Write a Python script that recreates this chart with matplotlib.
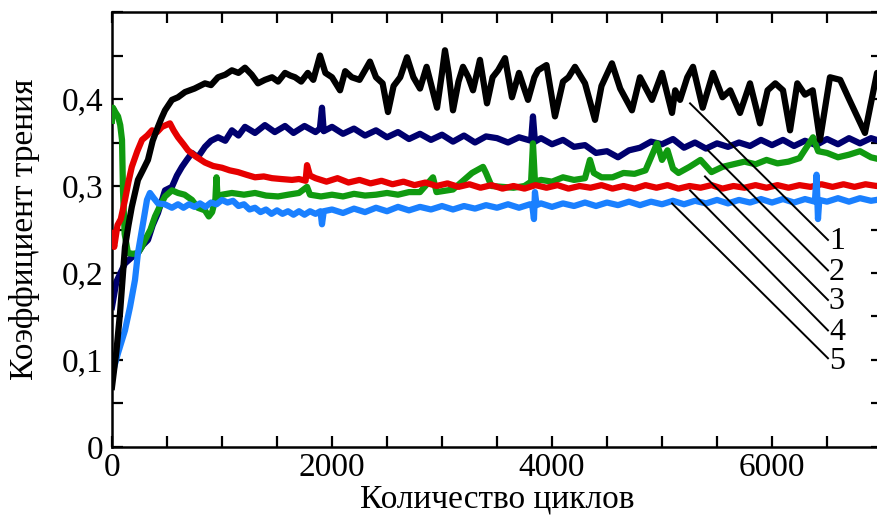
import matplotlib
matplotlib.use("Agg")
import matplotlib.pyplot as plt
from matplotlib.ticker import MultipleLocator

plt.rcParams['font.family'] = ['Liberation Serif', 'DejaVu Serif']

# 1 - чёрная кривая
x1 = [0, 40, 73, 118, 150, 180, 236, 280, 327, 370, 418, 450, 482, 545, 600, 664, 750, 845,
      900, 964, 1030, 1090, 1150, 1209, 1270, 1327, 1390, 1455, 1510, 1573, 1620, 1664, 1720,
      1780, 1830, 1891, 1940, 2000, 2073, 2120, 2180, 2250, 2300, 2345, 2400, 2460, 2509,
      2560, 2620, 2682, 2740, 2800, 2860, 2955, 3000, 3027, 3060, 3100, 3150, 3191, 3240,
      3282, 3345, 3409, 3460, 3510, 3573, 3636, 3700, 3782, 3840, 3873, 3950, 4027, 4100,
      4150, 4209, 4300, 4391, 4450, 4545, 4620, 4727, 4800, 4909, 5000, 5091, 5120, 5164,
      5230, 5282, 5370, 5464, 5550, 5620, 5709, 5800, 5891, 5960, 6030, 6100, 6164, 6230,
      6300, 6370, 6436, 6527, 6620, 6700, 6845, 6955, 7000]
y1 = [0.069, 0.110, 0.154, 0.230, 0.255, 0.276, 0.307, 0.318, 0.330, 0.352, 0.368, 0.378,
      0.387, 0.399, 0.402, 0.408, 0.412, 0.418, 0.416, 0.425, 0.428, 0.433, 0.430, 0.436,
      0.428, 0.418, 0.422, 0.425, 0.420, 0.430, 0.427, 0.425, 0.420, 0.430, 0.422, 0.450,
      0.430, 0.425, 0.410, 0.432, 0.425, 0.422, 0.433, 0.443, 0.425, 0.418, 0.385, 0.415,
      0.425, 0.448, 0.425, 0.412, 0.437, 0.390, 0.430, 0.456, 0.430, 0.387, 0.420, 0.437,
      0.425, 0.410, 0.445, 0.395, 0.425, 0.433, 0.447, 0.402, 0.430, 0.399, 0.425, 0.433,
      0.439, 0.380, 0.420, 0.425, 0.437, 0.418, 0.376, 0.415, 0.441, 0.412, 0.387, 0.425,
      0.399, 0.430, 0.384, 0.410, 0.399, 0.425, 0.437, 0.390, 0.430, 0.402, 0.410, 0.384,
      0.418, 0.372, 0.410, 0.418, 0.410, 0.364, 0.418, 0.405, 0.410, 0.353, 0.425, 0.422,
      0.400, 0.361, 0.430, 0.420]

# 2 - тёмно-синяя
x2 = [0, 40, 118, 180, 236, 280, 327, 370, 418, 450, 482, 545, 590, 636, 680, 727, 780, 845,
      900, 964, 1030, 1090, 1150, 1209, 1300, 1390, 1480, 1573, 1650, 1750, 1850, 1890, 1909,
      1925, 2000, 2100, 2200, 2300, 2400, 2500, 2600, 2700, 2800, 2900, 3000, 3100, 3200,
      3300, 3400, 3500, 3600, 3700, 3810, 3827, 3845, 3900, 4000, 4100, 4200, 4300, 4400,
      4500, 4600, 4700, 4800, 4900, 5000, 5100, 5200, 5300, 5400, 5500, 5600, 5700, 5800,
      5900, 6000, 6100, 6200, 6300, 6400, 6500, 6600, 6700, 6800, 6900, 7000]
y2 = [0.161, 0.190, 0.211, 0.218, 0.223, 0.232, 0.238, 0.255, 0.269, 0.282, 0.295, 0.299,
      0.312, 0.322, 0.330, 0.338, 0.333, 0.345, 0.352, 0.356, 0.352, 0.364, 0.358, 0.368,
      0.361, 0.370, 0.362, 0.369, 0.361, 0.369, 0.362, 0.366, 0.390, 0.363, 0.368, 0.360,
      0.366, 0.358, 0.364, 0.356, 0.362, 0.354, 0.360, 0.353, 0.359, 0.351, 0.358, 0.350,
      0.357, 0.355, 0.350, 0.356, 0.352, 0.380, 0.351, 0.355, 0.348, 0.353, 0.345, 0.347,
      0.338, 0.340, 0.333, 0.341, 0.344, 0.351, 0.348, 0.354, 0.344, 0.350, 0.343, 0.349,
      0.345, 0.350, 0.346, 0.353, 0.347, 0.353, 0.346, 0.352, 0.347, 0.354, 0.348, 0.355,
      0.349, 0.355, 0.351]

# 3 - красная
x3 = [0, 20, 50, 80, 118, 150, 180, 230, 273, 320, 364, 410, 455, 527, 560, 600, 650, 691,
      760, 845, 920, 1000, 1070, 1145, 1220, 1300, 1380, 1455, 1540, 1636, 1700, 1760, 1773,
      1800, 1850, 1950, 2050, 2150, 2250, 2350, 2450, 2550, 2650, 2750, 2850, 2950, 3050,
      3150, 3250, 3350, 3450, 3550, 3650, 3750, 3850, 3950, 4050, 4150, 4250, 4350, 4450,
      4550, 4650, 4750, 4850, 4950, 5050, 5150, 5250, 5350, 5450, 5550, 5650, 5750, 5850,
      5950, 6050, 6150, 6250, 6350, 6450, 6550, 6650, 6750, 6850, 6950, 7000]
y3 = [0.246, 0.230, 0.255, 0.262, 0.284, 0.305, 0.322, 0.340, 0.353, 0.358, 0.364, 0.362,
      0.368, 0.372, 0.364, 0.356, 0.348, 0.341, 0.334, 0.327, 0.323, 0.321, 0.318, 0.316,
      0.313, 0.310, 0.311, 0.309, 0.308, 0.307, 0.308, 0.306, 0.324, 0.312, 0.309, 0.305,
      0.309, 0.304, 0.307, 0.303, 0.306, 0.302, 0.305, 0.301, 0.304, 0.300, 0.303, 0.299,
      0.302, 0.298, 0.301, 0.297, 0.300, 0.297, 0.301, 0.298, 0.301, 0.297, 0.300, 0.298,
      0.301, 0.297, 0.300, 0.297, 0.301, 0.298, 0.301, 0.297, 0.300, 0.298, 0.301, 0.297,
      0.300, 0.298, 0.301, 0.298, 0.301, 0.298, 0.301, 0.299, 0.302, 0.299, 0.302, 0.299,
      0.302, 0.300, 0.301]

# 4 - зелёная
x4 = [0, 9, 30, 55, 75, 91, 100, 115, 145, 190, 236, 270, 300, 350, 391, 440, 482, 545, 600,
      660, 727, 780, 845, 880, 910, 940, 950, 960, 1000, 1090, 1200, 1300, 1400, 1510, 1600,
      1700, 1773, 1800, 1900, 2000, 2100, 2200, 2300, 2400, 2500, 2600, 2700, 2800, 2918,
      2950, 3000, 3100, 3273, 3373, 3400, 3450, 3550, 3650, 3750, 3810, 3827, 3845, 3900,
      4000, 4100, 4200, 4300, 4345, 4380, 4450, 4550, 4650, 4750, 4850, 4955, 5000, 5050,
      5100, 5150, 5250, 5350, 5450, 5550, 5650, 5750, 5850, 5950, 6050, 6150, 6250, 6373,
      6420, 6500, 6600, 6700, 6800, 6900, 7000]
y4 = [0.375, 0.390, 0.385, 0.380, 0.370, 0.353, 0.295, 0.245, 0.223, 0.222, 0.223, 0.230,
      0.238, 0.250, 0.265, 0.278, 0.288, 0.295, 0.292, 0.290, 0.284, 0.275, 0.272, 0.265,
      0.270, 0.285, 0.310, 0.285, 0.290, 0.292, 0.290, 0.292, 0.289, 0.288, 0.290, 0.292,
      0.299, 0.290, 0.288, 0.290, 0.288, 0.291, 0.289, 0.290, 0.292, 0.290, 0.293, 0.293,
      0.310, 0.293, 0.294, 0.296, 0.315, 0.322, 0.315, 0.300, 0.299, 0.298, 0.300, 0.305,
      0.349, 0.305, 0.307, 0.305, 0.310, 0.307, 0.309, 0.330, 0.315, 0.310, 0.310, 0.315,
      0.314, 0.318, 0.349, 0.330, 0.341, 0.320, 0.315, 0.322, 0.330, 0.316, 0.322, 0.325,
      0.328, 0.325, 0.330, 0.326, 0.328, 0.332, 0.356, 0.340, 0.338, 0.333, 0.336, 0.340,
      0.333, 0.330]

# 5 - голубая
x5 = [0, 20, 55, 118, 164, 209, 236, 282, 318, 345, 380, 418, 480, 545, 600, 650, 700, 750,
      800, 850, 900, 950, 1000, 1050, 1100, 1150, 1200, 1250, 1300, 1350, 1400, 1450, 1500,
      1550, 1600, 1650, 1700, 1750, 1800, 1850, 1895, 1909, 1925, 2000, 2100, 2200, 2300,
      2400, 2500, 2600, 2700, 2800, 2900, 3000, 3100, 3200, 3300, 3400, 3500, 3600, 3700,
      3800, 3820, 3836, 3845, 3860, 3900, 4000, 4100, 4200, 4300, 4400, 4500, 4600, 4700,
      4800, 4900, 5000, 5100, 5200, 5300, 5400, 5500, 5600, 5700, 5800, 5900, 6000, 6100,
      6200, 6300, 6390, 6405, 6418, 6430, 6500, 6600, 6700, 6800, 6900, 7000]
y5 = [0.080, 0.092, 0.108, 0.134, 0.161, 0.192, 0.223, 0.257, 0.284, 0.292, 0.286, 0.280,
      0.279, 0.275, 0.279, 0.275, 0.279, 0.276, 0.280, 0.276, 0.281, 0.279, 0.284, 0.281,
      0.283, 0.277, 0.279, 0.273, 0.275, 0.270, 0.273, 0.268, 0.272, 0.268, 0.271, 0.267,
      0.271, 0.267, 0.271, 0.268, 0.271, 0.256, 0.271, 0.273, 0.269, 0.274, 0.270, 0.275,
      0.271, 0.276, 0.272, 0.276, 0.273, 0.277, 0.273, 0.277, 0.274, 0.278, 0.275, 0.279,
      0.275, 0.279, 0.278, 0.262, 0.293, 0.278, 0.280, 0.276, 0.280, 0.277, 0.281, 0.277,
      0.281, 0.278, 0.282, 0.278, 0.282, 0.279, 0.283, 0.279, 0.283, 0.280, 0.284, 0.280,
      0.284, 0.281, 0.285, 0.281, 0.285, 0.281, 0.285, 0.282, 0.313, 0.262, 0.284, 0.282,
      0.286, 0.282, 0.286, 0.283, 0.285]

# выноски: начало на кривой, конец у номера
labels = ['1', '2', '3', '4', '5']
lead_x0 = [5255, 5418, 5391, 5255, 5091]
lead_y0 = [0.395, 0.341, 0.311, 0.295, 0.280]
lead_x1 = [6509, 6509, 6509, 6509, 6509]
lead_y1 = [0.238, 0.203, 0.169, 0.134, 0.102]
label_y = [0.236, 0.201, 0.167, 0.132, 0.098]

fig = plt.figure(figsize=(8.77, 5.2), dpi=100)
ax = fig.add_axes([0.1277, 0.1404, 0.878, 0.8365])

lw = 4.5
ax.plot(x2, y2, color='#00006e', lw=lw, zorder=2)
ax.plot(x4, y4, color='#109a10', lw=lw, zorder=3)
ax.plot(x3, y3, color='#e60000', lw=lw, zorder=4)
ax.plot(x5, y5, color='#1a80ff', lw=lw, zorder=5)
ax.plot(x1, y1, color='black', lw=lw, zorder=6)

for i in range(5):
    ax.plot([lead_x0[i], lead_x1[i]], [lead_y0[i], lead_y1[i]], color='black', lw=1.4, zorder=7)
    ax.text(6590, label_y[i], labels[i], fontsize=23, ha='center', va='center', zorder=8)

ax.set_xlim(0, 7000)
ax.set_ylim(0, 0.5)
ax.xaxis.set_major_locator(MultipleLocator(2000))
ax.xaxis.set_minor_locator(MultipleLocator(500))
ax.set_yticks([0, 0.1, 0.2, 0.3, 0.4])
ax.set_yticklabels(['0', '0,1', '0,2', '0,3', '0,4'])
ax.yaxis.set_minor_locator(MultipleLocator(0.05))
ax.tick_params(which='both', direction='in', top=True, right=True, width=1.6, labelsize=24)
ax.tick_params(which='major', length=8)
ax.tick_params(which='minor', length=8)
ax.tick_params(axis='x', pad=4)
ax.tick_params(axis='y', pad=6)
for s in ax.spines.values():
    s.set_linewidth(1.8)

ax.set_xlabel('Количество циклов', fontsize=24)
ax.set_ylabel('Коэффициент трения', fontsize=24)
ax.xaxis.set_label_coords(0.5, -0.084)
ax.yaxis.set_label_coords(-0.094, 0.5)

fig.savefig('out.png', dpi=100)
